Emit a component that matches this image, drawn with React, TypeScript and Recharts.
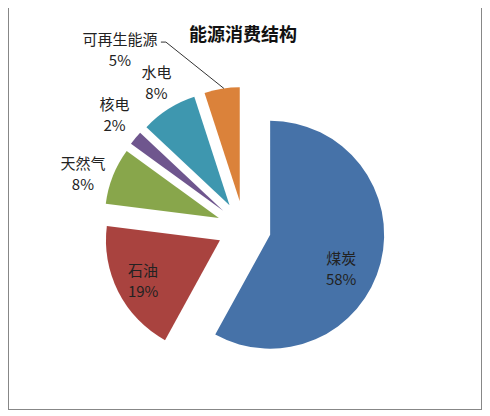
import React from "react";
import { PieChart, Pie, Cell } from "recharts";

const categories = ["煤炭", "石油", "天然气", "核电", "水电", "可再生能源"];
const shares = [58, 19, 8, 2, 8, 5];
const percentLabels = ["58%", "19%", "8%", "2%", "8%", "5%"];
const colors = ["#4672a8", "#a9433f", "#88a64b", "#6f568e", "#3e97af", "#db823a"];

// label spot: distance and clockwise angle (from 12 o'clock) measured from each slice's tip
const labelPlacement = [
  { r: 79, deg: 116, leader: false },
  { r: 87, deg: 242, leader: false },
  { r: 143, deg: 288, leader: false },
  { r: 145, deg: 311.5, leader: false },
  { r: 142, deg: 329, leader: false },
  { r: 193, deg: 321.6, leader: true },
];

const data = categories.map((name, i) => ({ name, value: shares[i] }));

const W = 472;
const H = 401;
const CX = 235;
const CY = 220;
const R = 114;
const EXPLODE = 27;

const total = shares.reduce((a, b) => a + b, 0);
const rad = (d: number) => (d * Math.PI) / 180;

// exploded tip of every slice, pushed out along its middle angle
const tips = shares.map((v, i) => {
  const before = shares.slice(0, i).reduce((a, b) => a + b, 0);
  const mid = ((before + v / 2) / total) * 360;
  return {
    x: CX + EXPLODE * Math.sin(rad(mid)),
    y: CY - EXPLODE * Math.cos(rad(mid)),
    mid,
  };
});

const makeLabel = (i: number) => (props: any) => {
  if (props.index !== i) return null;
  const t = tips[i];
  const p = labelPlacement[i];
  const x = t.x + p.r * Math.sin(rad(p.deg));
  const y = t.y - p.r * Math.cos(rad(p.deg));
  const ax = t.x + R * Math.sin(rad(t.mid + 1));
  const ay = t.y - R * Math.cos(rad(t.mid + 1));
  return (
    <g>
      {p.leader && (
        <polyline
          points={`${x + 41},${y - 8} ${x + 46},${y - 8} ${ax},${ay}`}
          fill="none"
          stroke="#333"
          strokeWidth={1}
        />
      )}
      <text
        x={x}
        y={y}
        textAnchor="middle"
        fontSize={15}
        fill="#222"
        fontFamily="'Noto Sans CJK SC', sans-serif"
      >
        <tspan x={x} dy={-5}>
          {categories[i]}
        </tspan>
        <tspan x={x} dy={21}>
          {percentLabels[i]}
        </tspan>
      </text>
    </g>
  );
};

const App: React.FC = () => (
  <div
    style={{
      width: W,
      height: H,
      border: "1px solid #878787",
      marginTop: -1,
      background: "#fff",
    }}
  >
    <PieChart width={W} height={H} margin={{ top: 0, right: 0, bottom: 0, left: 0 }}>
      <text
        x={234}
        y={25}
        textAnchor="middle"
        dominantBaseline="central"
        fontSize={18}
        fontWeight="bold"
        fill="#111"
        fontFamily="'Noto Sans CJK SC', serif"
      >
        能源消费结构
      </text>
      {categories.map((_, i) => (
        <Pie
          key={i}
          data={data}
          dataKey="value"
          nameKey="name"
          cx={tips[i].x}
          cy={tips[i].y}
          outerRadius={R}
          startAngle={90}
          endAngle={-270}
          labelLine={false}
          label={makeLabel(i)}
          isAnimationActive={false}
        >
          {data.map((_, j) => (
            <Cell
              key={j}
              fill={j === i ? colors[i] : "none"}
              stroke="none"
            />
          ))}
        </Pie>
      ))}
    </PieChart>
  </div>
);

export default App;
